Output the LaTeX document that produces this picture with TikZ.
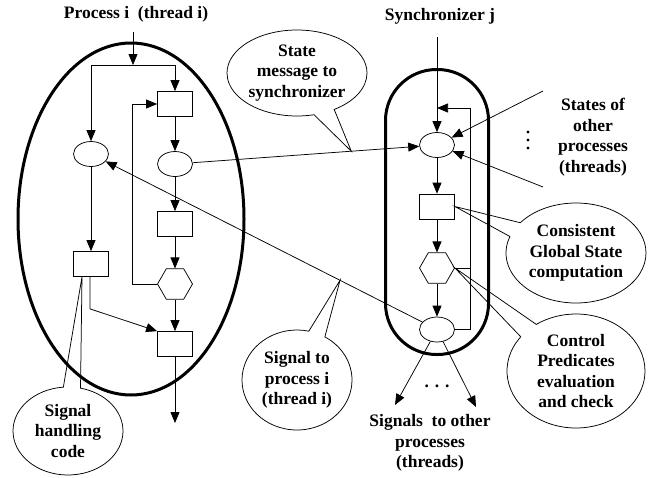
\documentclass[tikz,border=0pt]{standalone}
\usepackage{fontspec}
\setmainfont{Liberation Serif}
\usetikzlibrary{shapes.geometric,shapes.callouts,arrows.meta}
\begin{document}
\begin{tikzpicture}[x=1pt,y=-1pt,node distance=60pt,line width=0.75pt,
  font=\fontsize{17.5}{20.5}\selectfont\bfseries]

% Define block styles
\tikzstyle{place} = [ellipse, draw, minimum width=35pt, minimum height=25pt, inner sep=0pt]
\tikzstyle{trans} = [rectangle, draw, minimum width=35pt, minimum height=25pt, inner sep=0pt]
\tikzstyle{cond} = [regular polygon, regular polygon sides=6, draw, minimum size=35pt, inner sep=0pt]
\tikzstyle{bubble} = [ellipse callout, draw, align=center, inner sep=0pt, callout pointer arc=18]
\tikzstyle{arrow} = [->,>={Triangle[length=11pt,width=9pt]}]
\tikzstyle{frame} = [draw, line width=3pt]

\useasboundingbox (0,0) rectangle (659,477);

% Titles
\node (proctitle) at (136,14) {Process i~ (thread i)};
\node (synctitle) at (440,16) {Synchronizer j};

% Containers
\node (procbox) [frame, ellipse, minimum width=226pt, minimum height=352pt] at (131,219) {};
\node (syncbox) [frame, rectangle, rounded corners=51pt, minimum width=103pt, minimum height=285pt] at (437,212) {};

% Define nodes of the process
\node (p1) [place] at (91,154) {};
\node (r1) [trans] at (175,104) {};
\node (p2) [place, below of=r1] {};
\node (r2) [trans, below of=p2] {};
\node (h) [cond, below of=r2] {};
\node (r3) [trans, below of=h] {};
\node (r4) [trans] at (91,264) {};

% Define nodes of the synchronizer
\node (s1) [place] at (437,145) {};
\node (s2) [trans, below of=s1, node distance=61.5pt] {};
\node (s3) [cond, below of=s2, node distance=61.5pt] {};
\node (s4) [place, below of=s3, node distance=61.5pt] {};

% Free ends
\coordinate (procin) at (133,32);
\coordinate (split) at (133,65);
\coordinate (procout) at (175,423);
\coordinate (syncin) at (437,37);
\coordinate (syncjoin) at (437,108);
\coordinate (oth1) at (543,91);
\coordinate (oth2) at (543,187);
\coordinate (out1) at (395,405);
\coordinate (out2) at (476,407);

% Draw arrows
\draw [arrow] (procin) -- (split);
\draw [arrow] (split) -| (p1);
\draw [arrow] (split) -| (r1);
\draw [arrow] (r1) -- (p2);
\draw [arrow] (p2) -- (r2);
\draw [arrow] (r2) -- (h);
\draw [arrow] (h) -- (r3);
\draw [arrow] (r3) -- (procout);
\draw [arrow] (h.west) -| ([xshift=-25pt]r1.west) -- (r1.west);
\draw [arrow] (p1) -- (r4);
\draw [arrow] ([xshift=-1pt]r4.south) -- ++(0,32) -- (r3.north west);

\draw [arrow] (syncin) -- (s1);
\draw [arrow] (s1) -- (s2);
\draw [arrow] (s2) -- (s3);
\draw [arrow] (s3) -- (s4);
\draw [arrow] (s4.east) -| ([xshift=33pt]syncjoin) -- (syncjoin);
\draw (s3.east) -- ([xshift=33pt]s3.center);

\draw [arrow] (p2) -- node [coordinate, pos=0.7] (msgtip) {} (s1);
\draw [arrow] (s4) -- node [coordinate, pos=0.26] (sigtip) {} (p1);
\draw [arrow] (oth1) -- (s1);
\draw [arrow] (oth2) -- (s1);
\draw [arrow] (s4) -- (out1);
\draw [arrow] (s4) -- (out2);

% Callouts
\node (msgnote) [bubble, minimum width=140pt, minimum height=86pt, callout absolute pointer={(msgtip)}] at (297,73) {State\\message to\\synchronizer};
\node (signote) [bubble, minimum width=110pt, minimum height=100pt, callout absolute pointer={(sigtip)}] at (297,380) {Signal to\\process i\\(thread i)};
\node (handnote) [bubble, minimum width=110pt, minimum height=88pt, callout absolute pointer={([xshift=-9pt]r4.south)}] at (68,431) {Signal\\handling\\code};
\node (gsnote) [bubble, minimum width=140pt, minimum height=100pt, callout absolute pointer={(s2.east)}] at (576,253) {Consistent\\Global State\\computation};
\node (cpnote) [bubble, minimum width=138pt, minimum height=114pt, callout absolute pointer={(s3.east)}] at (576,371) {Control\\Predicates\\evaluation\\and check};

% Other labels
\node (othtext) [align=center] at (593,137) {States of\\other\\processes\\(threads)};
\foreach \y in {132,140,148}
  \fill (528,\y) circle (1.6pt);
\node (outdots) at (437,386) {. . .};
\node (outtext) [align=center] at (430,443) {Signals~ to other\\processes\\(threads)};
\end{tikzpicture}
\end{document}
